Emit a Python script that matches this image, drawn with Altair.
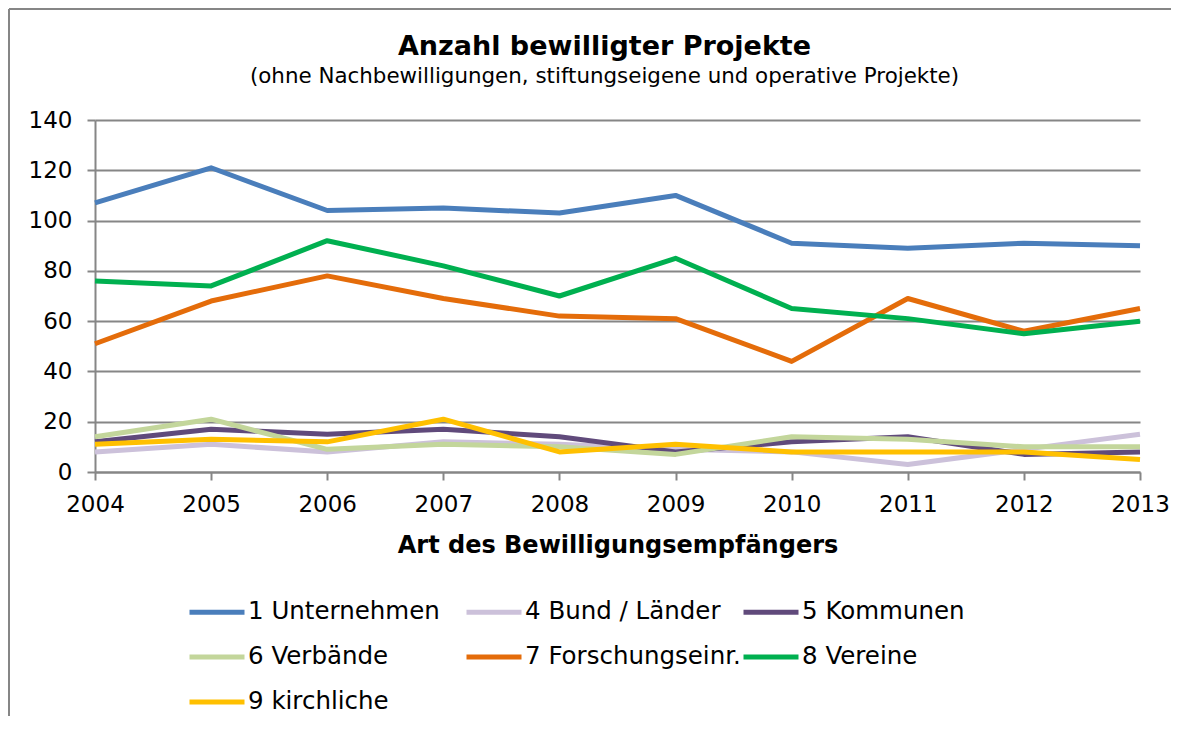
import altair as alt
import pandas as pd

years = [2004, 2005, 2006, 2007, 2008, 2009, 2010, 2011, 2012, 2013]
series_names = ["1 Unternehmen", "4 Bund / Länder", "5 Kommunen", "6 Verbände",
                "7 Forschungseinr.", "8 Vereine", "9 kirchliche"]
unternehmen = [107, 121, 104, 105, 103, 110, 91, 89, 91, 90]
bund_laender = [8, 11, 8, 12, 11, 9, 8, 3, 9, 15]
kommunen = [12, 17, 15, 17, 14, 8, 12, 14, 7, 8]
verbaende = [14, 21, 9, 11, 10, 7, 14, 13, 10, 10]
forschung = [51, 68, 78, 69, 62, 61, 44, 69, 56, 65]
vereine = [76, 74, 92, 82, 70, 85, 65, 61, 55, 60]
kirchliche = [11, 13, 12, 21, 8, 11, 8, 8, 8, 5]
colors = ["#4A7EBB", "#CCC1DA", "#604A7B", "#C3D69B", "#E46C0A", "#00B050", "#FFC000"]
y_ticks = [0, 20, 40, 60, 80, 100, 120, 140]
# order handed to the legend so that the grid reads row by row 1,4,5 / 6,7,8 / 9
legend_order = ["1 Unternehmen", "6 Verbände", "8 Vereine", "4 Bund / Länder",
                "7 Forschungseinr.", "9 kirchliche", "5 Kommunen"]

values = [unternehmen, bund_laender, kommunen, verbaende, forschung, vereine, kirchliche]
rows = []
for i, (name, vals) in enumerate(zip(series_names, values)):
    for yr, v in zip(years, vals):
        rows.append({"Jahr": yr, "Serie": name, "Anzahl": v, "idx": i})
df = pd.DataFrame(rows)

FONT = "DejaVu Sans"
GRAY = "#868686"

lines = alt.Chart(df).mark_line(strokeWidth=5, strokeJoin="round").encode(
    x=alt.X("Jahr:Q",
            scale=alt.Scale(domain=[2004, 2013], nice=False, zero=False),
            axis=alt.Axis(values=years, format="d", grid=False,
                          title="Art des Bewilligungsempfängers",
                          titleFontSize=24, titleFontWeight="bold", titleFont=FONT,
                          titleColor="black",
                          titlePadding=17, labelPadding=13, labelFlush=False)),
    y=alt.Y("Anzahl:Q",
            scale=alt.Scale(domain=[0, 140], nice=False),
            axis=alt.Axis(values=y_ticks, title=None, grid=True, labelPadding=15)),
    color=alt.Color("Serie:N",
                    scale=alt.Scale(domain=series_names, range=colors),
                    legend=alt.Legend(orient="none", legendX=92, legendY=462,
                                      columns=3, gridAlign="all", title=None,
                                      symbolType="stroke", symbolStrokeWidth=5,
                                      symbolSize=3025, labelFontSize=24.5, labelFont=FONT,
                                      labelLimit=400, values=legend_order,
                                      labelOffset=1, columnPadding=-8, rowPadding=3,
                                      padding=0, labelColor="black")),
    order=alt.Order("idx:Q"),
)

frame_data = alt.Data(values=[{"f": 1}])
frame_left = alt.Chart(frame_data).mark_rule(color=GRAY, strokeWidth=2).encode(
    x=alt.value(-86), y=alt.value(-111), y2=alt.value(596))
frame_top = alt.Chart(frame_data).mark_rule(color=GRAY, strokeWidth=2).encode(
    x=alt.value(-86), x2=alt.value(1076), y=alt.value(-111))

chart = alt.layer(lines, frame_left, frame_top).properties(
    width=1045, height=352,
    padding={"left": 0, "top": 0, "right": 0, "bottom": 0},
    title=alt.TitleParams(
        text="Anzahl bewilligter Projekte",
        subtitle="(ohne Nachbewilligungen, stiftungseigene und operative Projekte)",
        fontSize=27, font=FONT, fontWeight="bold", color="black",
        subtitleFontSize=21.4, subtitleFont=FONT, subtitleColor="black",
        subtitlePadding=5, anchor="middle", frame="group", offset=-80, dx=-13),
).configure_axis(
    domainColor=GRAY, domainWidth=2, tickColor=GRAY, tickWidth=2, tickSize=8,
    gridColor=GRAY, gridWidth=2, labelFontSize=23, labelFont=FONT, labelColor="black",
).configure_view(strokeWidth=0)

chart.save("out.html", embed_options={"renderer": "svg", "actions": False})
